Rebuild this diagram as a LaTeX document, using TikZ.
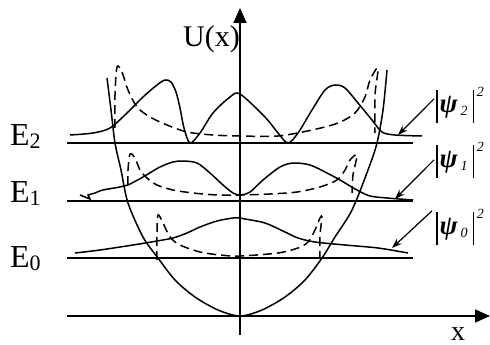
\documentclass[tikz,border=0pt]{standalone}
\usepackage{fontspec}
\setmainfont{Liberation Serif}
\usetikzlibrary{arrows.meta}

\newcommand{\lvl}[1]{E\raisebox{-3pt}{\fontsize{22}{22}\selectfont #1}}
\newcommand{\absbar}{\rule[-11pt]{1.3pt}{33pt}}
\newcommand{\psisq}[1]{\absbar\hspace{2pt}{\bfseries\itshape ψ}\hspace{3pt}\raisebox{-3pt}{\fontsize{14}{14}\selectfont\itshape #1}\hspace{5pt}\absbar\hspace{3pt}\raisebox{16pt}{\fontsize{14}{14}\selectfont\itshape 2}}

\begin{document}
\begin{tikzpicture}[x=1pt, y=-1pt,
        level/.style = {line width=1.6pt},
        wave/.style = {line width=1.5pt, smooth, tension=0.5},
        classic/.style = {wave, dash pattern=on 9pt off 5pt},
        lbl/.style = {inner sep=0pt, anchor=base west, font=\fontsize{32}{36}\selectfont},
        plbl/.style = {inner sep=0pt, anchor=base west, font=\fontsize{27}{30}\selectfont},
        pointer/.style = {line width=1.2pt, -{Stealth[length=10pt, width=7pt]}}]
        \useasboundingbox (0,0) rectangle (490,345);

        \draw[level, -{Triangle[length=15pt, width=13pt]}] (67,316) -- (490,316);
        \draw[level, -{Triangle[length=15pt, width=13pt]}] (240,335) -- (240,8);

        \draw[level] (67,143) -- (413,143);
        \draw[level] (67,201) -- (413,201);
        \draw[level] (67,258) -- (413,258);

        \node[lbl] (e2) at (10,145) {\lvl{2}};
        \node[lbl] (e1) at (10,202) {\lvl{1}};
        \node[lbl] (e0) at (10,267) {\lvl{0}};
        \node[lbl, font=\fontsize{30}{34}\selectfont] (u) at (183,47) {U(x)};
        \node[lbl, font=\fontsize{28}{32}\selectfont] (xl) at (451,340) {x};

        \draw[wave] plot coordinates {(107,78) (111,110) (115,143) (121,170) (128,203) (143,237)
                (158,258) (175,280) (195,297) (218,310) (240,316) (262,310) (285,297) (305,280)
                (322,258) (335,237) (352,210) (368,170) (377,143) (383,110) (387,70)};

        \draw[wave] plot coordinates {(70,135) (93,133) (110,128) (127,113) (143,97) (157,85)
                (165,80) (171,82) (176,92) (180,108) (184,128) (190,143) (200,133) (213,113)
                (230,97) (240,94) (265,117) (278,133) (288,143) (298,133) (312,110) (325,90)
                (335,85) (345,88) (358,103) (372,120) (382,132) (395,135) (422,136)};
        \draw[classic] plot coordinates {(115,128) (115,95) (117,67) (122,72) (128,90) (137,107)
                (150,117) (167,125) (187,132) (213,135) (240,136) (278,136) (312,130) (338,123)
                (355,113) (365,97) (370,80) (378,68) (375,95) (375,133)};

        \draw[wave] (80,195) -- (90,199) -- (88,195) -- (95,193);
        \draw[wave] plot coordinates {(95,193) (103,190) (120,187) (128,185) (143,177) (160,167)
                (173,162) (183,161) (197,163) (210,173) (223,185) (233,193) (240,195) (250,192)
                (263,180) (280,167) (293,163) (310,165) (327,173) (340,180) (357,190) (370,196)
                (387,198) (413,200)};
        \draw[classic] plot coordinates {(128,185) (128,170) (130,154) (135,158) (140,170)
                (147,178) (157,185) (173,190) (193,193) (217,195) (240,195) (270,194) (297,192)
                (320,187) (337,180) (345,170) (350,160) (357,155) (353,175) (352,193)};

        \draw[wave] plot coordinates {(75,253) (100,250) (133,245) (157,241) (173,238) (187,233)
                (200,227) (217,221) (233,218) (240,218) (245,219) (265,223) (285,232) (298,238)
                (315,242) (345,245) (378,248) (408,253)};
        \draw[classic] plot coordinates {(157,260) (157,235) (158,215) (163,223) (170,237)
                (180,245) (200,252) (220,255) (240,256) (278,253) (298,248) (308,242) (315,230)
                (320,218) (322,217) (320,235) (320,258)};

        \node[plbl] (psi2) at (436,112) {\psisq{2}};
        \node[plbl] (psi1) at (436,167) {\psisq{1}};
        \node[plbl] (psi0) at (436,234) {\psisq{0}};

        \coordinate (t2) at (398,135);
        \coordinate (t1) at (395,199);
        \coordinate (t0) at (392,248);

        \draw[pointer] ([xshift=-2pt, yshift=6pt]psi2.west) -- (t2);
        \draw[pointer] ([xshift=-2pt]psi1.west) -- (t1);
        \draw[pointer] ([xshift=-4pt, yshift=16pt]psi0.west) -- (t0);
\end{tikzpicture}
\end{document}
